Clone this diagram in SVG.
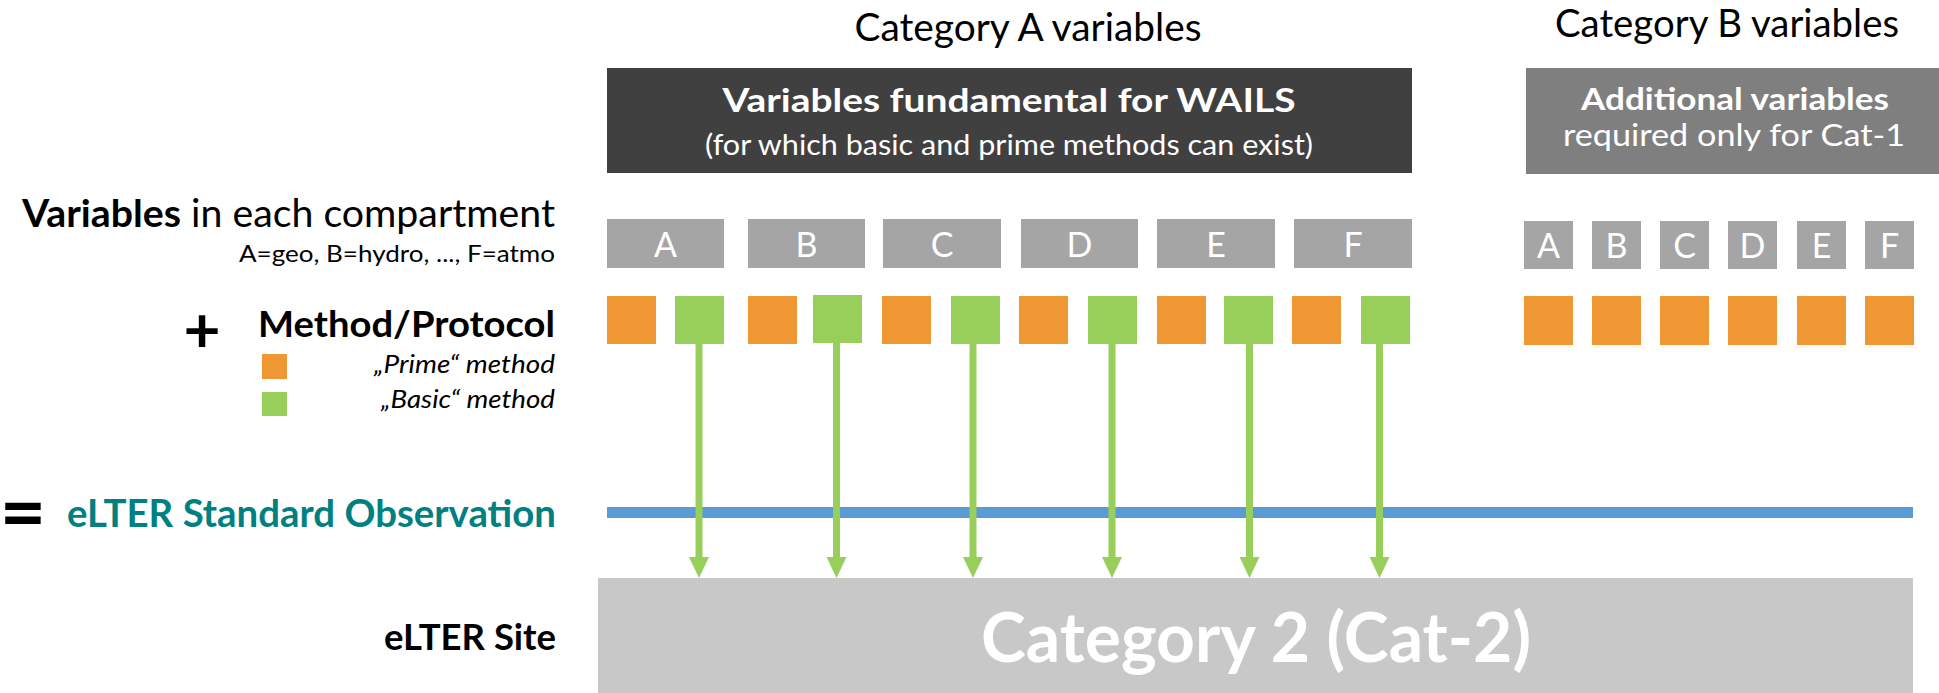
<svg xmlns="http://www.w3.org/2000/svg" width="1939" height="693" viewBox="0 0 1939 693">
<style>
text{font-family:Lato,"Open Sans","Liberation Sans",sans-serif;}
.b{font-weight:bold;}
.w{fill:#ffffff;}
.lt{font-size:34px;fill:#ffffff;text-anchor:middle;}
.vb{fill:#a5a5a5;}
.or{fill:#ee9733;}
.gr{fill:#98ce5a;}
.arr{stroke:#98ce5a;stroke-width:7;fill:none;}
</style>
<defs>
<marker id="ah" markerUnits="userSpaceOnUse" markerWidth="21" markerHeight="20" viewBox="0 0 21 20" refX="0" refY="10" orient="auto">
<path d="M0,0 L21,10 L0,20 z" fill="#98ce5a"/>
</marker>
</defs>
<rect width="1939" height="693" fill="#ffffff"/>

<g id="headers">
<text x="1028" y="41" font-size="38" text-anchor="middle" textLength="347" lengthAdjust="spacingAndGlyphs">Category A variables</text>
<text x="1727" y="37" font-size="38" text-anchor="middle" textLength="344" lengthAdjust="spacingAndGlyphs">Category B variables</text>
</g>

<g id="catA-box">
<rect x="607" y="68" width="805" height="105" fill="#404040"/>
<text class="w" text-anchor="middle"><tspan class="b" x="1009" y="112" font-size="33" textLength="573" lengthAdjust="spacingAndGlyphs">Variables fundamental for WAILS</tspan><tspan x="1009" y="155" font-size="28" textLength="608" lengthAdjust="spacingAndGlyphs">(for which basic and prime methods can exist)</tspan></text>
</g>

<g id="catB-box">
<rect x="1526" y="68" width="413" height="106" fill="#7f7f7f"/>
<text class="w" text-anchor="middle" font-size="30"><tspan class="b" x="1735" y="109.5" textLength="308" lengthAdjust="spacingAndGlyphs">Additional variables</tspan><tspan x="1734" y="146" textLength="342" lengthAdjust="spacingAndGlyphs">required only for Cat-1</tspan></text>
</g>

<g id="labels">
<text x="555" y="227" font-size="38" text-anchor="end" textLength="533" lengthAdjust="spacingAndGlyphs"><tspan class="b">Variables</tspan> in each compartment</text>
<text x="555" y="262" font-size="24" text-anchor="end" textLength="316" lengthAdjust="spacingAndGlyphs">A=geo, B=hydro, ..., F=atmo</text>
<text class="b" x="202" y="352" font-size="64" text-anchor="middle">+</text>
<text class="b" x="555" y="337" font-size="37" text-anchor="end" textLength="297" lengthAdjust="spacingAndGlyphs">Method/Protocol</text>
<rect class="or" x="262" y="354" width="25" height="25"/>
<rect class="gr" x="262" y="392" width="25" height="24"/>
<text x="555" y="373" font-size="25" font-style="italic" text-anchor="end" textLength="181" lengthAdjust="spacingAndGlyphs">„Prime“ method</text>
<text x="555" y="408" font-size="25" font-style="italic" text-anchor="end" textLength="174" lengthAdjust="spacingAndGlyphs">„Basic“ method</text>
<text class="b" x="23" y="540" font-size="80" text-anchor="middle">=</text>
<text class="b" x="556" y="527" font-size="38" fill="#008080" text-anchor="end" textLength="489" lengthAdjust="spacingAndGlyphs">eLTER Standard Observation</text>
<text class="b" x="556" y="650" font-size="37" text-anchor="end" textLength="172" lengthAdjust="spacingAndGlyphs">eLTER Site</text>
</g>

<g id="catA-vars">
<g id="varA"><rect class="vb" x="607" y="219" width="117" height="49"/><text class="lt" x="665.5" y="257">A</text><rect class="or" x="607" y="296" width="49" height="48"/><rect class="gr" x="675" y="296" width="49" height="48"/></g>
<g id="varB"><rect class="vb" x="748" y="219" width="117" height="49"/><text class="lt" x="806.5" y="257">B</text><rect class="or" x="748" y="296" width="49" height="48"/><rect class="gr" x="813" y="295" width="49" height="48"/></g>
<g id="varC"><rect class="vb" x="883" y="219" width="118" height="49"/><text class="lt" x="942" y="257">C</text><rect class="or" x="882" y="296" width="49" height="48"/><rect class="gr" x="951" y="296" width="49" height="48"/></g>
<g id="varD"><rect class="vb" x="1021" y="219" width="117" height="49"/><text class="lt" x="1079.5" y="257">D</text><rect class="or" x="1019" y="296" width="49" height="48"/><rect class="gr" x="1088" y="296" width="49" height="48"/></g>
<g id="varE"><rect class="vb" x="1157" y="219" width="118" height="49"/><text class="lt" x="1216" y="257">E</text><rect class="or" x="1157" y="296" width="49" height="48"/><rect class="gr" x="1224" y="296" width="49" height="48"/></g>
<g id="varF"><rect class="vb" x="1294" y="219" width="118" height="49"/><text class="lt" x="1353" y="257">F</text><rect class="or" x="1292" y="296" width="49" height="48"/><rect class="gr" x="1361" y="296" width="49" height="48"/></g>
</g>

<g id="catB-vars">
<g id="bvarA"><rect class="vb" x="1524" y="221" width="49" height="48"/><text class="lt" x="1548.5" y="258">A</text><rect class="or" x="1524" y="296" width="49" height="49"/></g>
<g id="bvarB"><rect class="vb" x="1592" y="221" width="49" height="48"/><text class="lt" x="1616.5" y="258">B</text><rect class="or" x="1592" y="296" width="49" height="49"/></g>
<g id="bvarC"><rect class="vb" x="1660" y="221" width="49" height="48"/><text class="lt" x="1684.5" y="258">C</text><rect class="or" x="1660" y="296" width="49" height="49"/></g>
<g id="bvarD"><rect class="vb" x="1728" y="221" width="49" height="48"/><text class="lt" x="1752.5" y="258">D</text><rect class="or" x="1728" y="296" width="49" height="49"/></g>
<g id="bvarE"><rect class="vb" x="1797" y="221" width="49" height="48"/><text class="lt" x="1821.5" y="258">E</text><rect class="or" x="1797" y="296" width="49" height="49"/></g>
<g id="bvarF"><rect class="vb" x="1865" y="221" width="49" height="48"/><text class="lt" x="1889.5" y="258">F</text><rect class="or" x="1865" y="296" width="49" height="49"/></g>
</g>

<g id="standard-observation">
<rect x="607" y="507" width="1306" height="11" fill="#5b9bd5"/>
</g>

<g id="site">
<rect x="598" y="578" width="1315" height="115" fill="#c8c8c8"/>
<text class="b w" x="1256" y="662" font-size="69" text-anchor="middle" textLength="550" lengthAdjust="spacingAndGlyphs">Category 2 (Cat-2)</text>
</g>

<g id="connectors">
<line class="arr" x1="699" y1="344" x2="699" y2="557" marker-end="url(#ah)"/>
<line class="arr" x1="836.5" y1="343" x2="836.5" y2="557" marker-end="url(#ah)"/>
<line class="arr" x1="973" y1="344" x2="973" y2="557" marker-end="url(#ah)"/>
<line class="arr" x1="1112" y1="344" x2="1112" y2="557" marker-end="url(#ah)"/>
<line class="arr" x1="1249.5" y1="344" x2="1249.5" y2="557" marker-end="url(#ah)"/>
<line class="arr" x1="1379.5" y1="344" x2="1379.5" y2="557" marker-end="url(#ah)"/>
</g>
</svg>
